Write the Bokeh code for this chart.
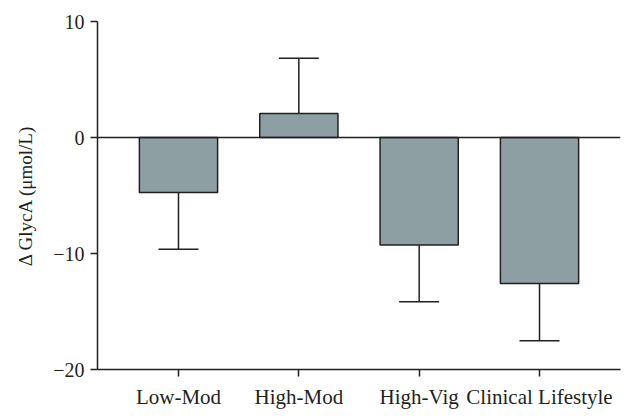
from bokeh.plotting import figure
from bokeh.models import ColumnDataSource, FactorRange, Range1d, Span, FixedTicker
from bokeh.transform import dodge
from bokeh.embed import file_html
from bokeh.resources import INLINE

groups = ["Low-Mod", "High-Mod", "High-Vig", "Clinical Lifestyle"]
delta = [-4.74, 2.07, -9.26, -12.59]
sem = [4.89, 4.77, 4.91, 4.94]
y_ticks = [-20, -10, 0, 10]

err_end = [d + (s if d >= 0 else -s) for d, s in zip(delta, sem)]
zeros = [0] * len(groups)
src = ColumnDataSource(dict(g=groups, d=delta, e=err_end, z=zeros))

FONT = "Liberation Serif"
INK = "#231f20"

p = figure(
    x_range=FactorRange(*groups, range_padding=0.173, range_padding_units="absolute"),
    y_range=Range1d(-20, 10),
    width=626, height=412,
    output_backend="svg", toolbar_location=None,
    min_border_left=97, min_border_right=6, min_border_top=21, min_border_bottom=43,
)
p.outline_line_color = None
p.background_fill_color = "white"
p.grid.visible = False

# error bars (drawn first so bars cover the stem inside)
p.segment(x0="g", y0="d", x1="g", y1="e", source=src, line_color=INK, line_width=1.5)
p.segment(x0=dodge("g", -0.166, range=p.x_range), y0="e",
          x1=dodge("g", 0.166, range=p.x_range), y1="e",
          source=src, line_color=INK, line_width=1.5)

p.vbar(x="g", top="d", bottom="z", width=0.65, source=src,
       fill_color="#8d9fa3", line_color=INK, line_width=1.5)

p.add_layout(Span(location=0, dimension="width", line_color=INK, line_width=1.5))

p.yaxis.ticker = FixedTicker(ticks=y_ticks)
p.yaxis.minor_tick_line_color = None
p.yaxis.axis_label = "Δ GlycA (μmol/L)"

for ax in (p.xaxis[0], p.yaxis[0]):
    ax.axis_line_color = INK
    ax.axis_line_width = 1.5
    ax.major_tick_line_color = INK
    ax.major_tick_line_width = 1.5
    ax.major_tick_out = 7
    ax.major_tick_in = 0
    ax.major_label_text_font = FONT
    ax.major_label_text_color = INK
    ax.axis_label_text_font = FONT
    ax.axis_label_text_font_style = "normal"
    ax.axis_label_text_color = INK

p.xaxis.major_label_text_font_size = "21px"
p.yaxis.major_label_text_font_size = "20px"
p.yaxis.axis_label_text_font_size = "19px"
p.xaxis.major_label_standoff = 8
p.yaxis.major_label_standoff = 6
p.yaxis.axis_label_standoff = 14

open("out.html", "w").write(file_html(p, INLINE))
